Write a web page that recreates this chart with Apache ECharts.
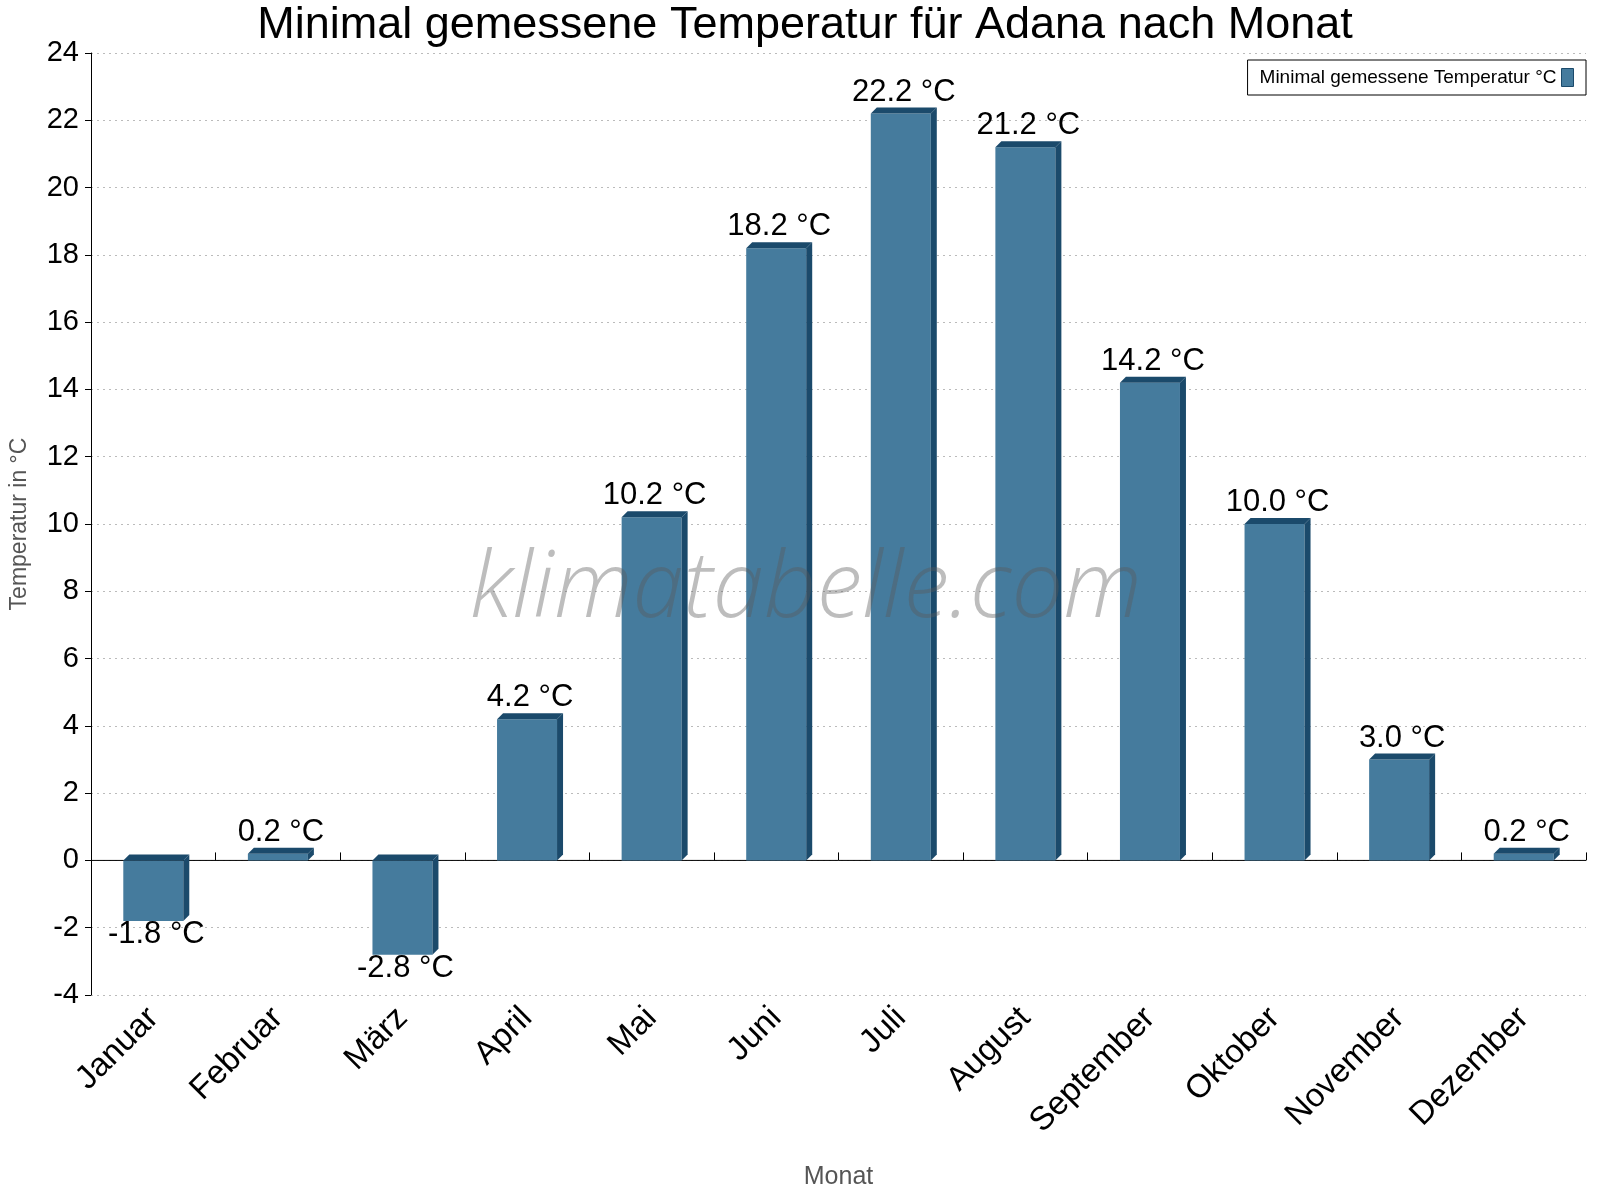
<!DOCTYPE html>
<html>
<head>
<meta charset="utf-8">
<script src="https://cdn.jsdelivr.net/npm/echarts@6/dist/echarts.min.js"></script>
<style>html,body{margin:0;padding:0;background:#fff}#chart{width:1600px;height:1200px}</style>
</head>
<body>
<div id="chart"></div>
<script>
const months = ['Januar', 'Februar', 'März', 'April', 'Mai', 'Juni', 'Juli', 'August', 'September', 'Oktober', 'November', 'Dezember'];
const minTemps = [-1.8, 0.2, -2.8, 4.2, 10.2, 18.2, 22.2, 21.2, 14.2, 10.0, 3.0, 0.2];

const chart = echarts.init(document.getElementById('chart'));

const FRONT = '#457b9d';
const DARK = '#1b4a6b';

// draws one 3D-looking bar: front face, right side, top face
function renderBar(params, api) {
  const idx = api.value(0);
  const val = api.value(1);
  const p = api.coord([idx, val]);
  const z = api.coord([idx, 0]);
  const half = 30, d = 6;
  const x = p[0];
  const top = Math.min(p[1], z[1]);
  const bot = Math.max(p[1], z[1]);
  const children = [];
  if (params.dataIndex === 0) {
    const cs = params.coordSys;
    children.push({ type: 'line', shape: { x1: cs.x, y1: z[1], x2: cs.x + cs.width, y2: z[1] },
      style: { stroke: '#000', lineWidth: 1 } });
  }
  children.push(
    { type: 'rect', shape: { x: x - half, y: top, width: half * 2, height: bot - top }, style: { fill: FRONT } },
    { type: 'polygon', shape: { points: [[x + half, top], [x + half + d, top - d], [x + half + d, bot - d], [x + half, bot]] }, style: { fill: DARK } },
    { type: 'polygon', shape: { points: [[x - half, top], [x - half + d, top - d], [x + half + d, top - d], [x + half, top]] }, style: { fill: DARK } },
    { type: 'text', x: x + 3, y: val >= 0 ? top - 6 : bot - 2,
      style: { text: val.toFixed(1) + ' °C', fill: '#000', font: '31px Arial, "Liberation Sans"',
        align: 'center', verticalAlign: val >= 0 ? 'bottom' : 'top' } }
  );
  return { type: 'group', children };
}

const option = {
  backgroundColor: '#fff',
  animation: false,
  title: {
    text: 'Minimal gemessene Temperatur für Adana nach Monat',
    left: 800, top: -2, textAlign: 'center',
    textStyle: { fontSize: 45, fontWeight: 'normal', color: '#000', fontFamily: 'Arial, "Liberation Sans"' }
  },
  legend: {
    right: 14, top: 60, orient: 'horizontal', align: 'right',
    borderColor: '#000', borderWidth: 1, borderRadius: 0, padding: [8, 12, 8, 12],
    itemWidth: 12, itemHeight: 18,
    textStyle: { fontSize: 19, color: '#000', fontFamily: 'Arial, "Liberation Sans"' },
    data: [{ name: 'Minimal gemessene Temperatur °C', icon: 'rect', itemStyle: { color: FRONT, borderColor: DARK, borderWidth: 1 } }]
  },
  graphic: [{
    type: 'text', left: 470, top: 545, z: 100,
    style: { text: 'klimatabelle.com', fill: 'rgba(90,90,90,0.4)',
      font: 'italic 300 92px "Open Sans", Roboto, sans-serif' }
  }],
  grid: { left: 80, right: 14, top: 53, bottom: 205, containLabel: false },
  xAxis: {
    type: 'category', data: months,
    name: 'Monat', nameLocation: 'middle', nameGap: 170,
    nameTextStyle: { fontSize: 25, color: '#555', fontFamily: 'Arial, "Liberation Sans"' },
    axisLine: { show: false },
    axisTick: { show: true, inside: true, length: 8, lineStyle: { color: '#000' } },
    axisLabel: { rotate: 45, fontSize: 33, color: '#000', margin: 18, fontFamily: 'Arial, "Liberation Sans"' }
  },
  yAxis: {
    type: 'value', min: -4, max: 24, interval: 2,
    name: 'Temperatur in °C', nameLocation: 'middle', nameGap: 60,
    nameTextStyle: { fontSize: 23, color: '#555', fontFamily: 'Arial, "Liberation Sans"' },
    axisLine: { show: true, lineStyle: { color: '#000' } },
    axisTick: { show: true, length: 6, lineStyle: { color: '#000' } },
    axisLabel: { fontSize: 29, color: '#000', margin: 12, fontFamily: 'Arial, "Liberation Sans"' },
    splitLine: { lineStyle: { color: '#bbb', type: [2, 4] } }
  },
  series: [{
    name: 'Minimal gemessene Temperatur °C',
    type: 'custom',
    renderItem: renderBar,
    itemStyle: { color: FRONT },
    encode: { x: 0, y: 1 },
    data: minTemps.map((v, i) => [i, v])
  }]
};

chart.setOption(option);
</script>
</body>
</html>
